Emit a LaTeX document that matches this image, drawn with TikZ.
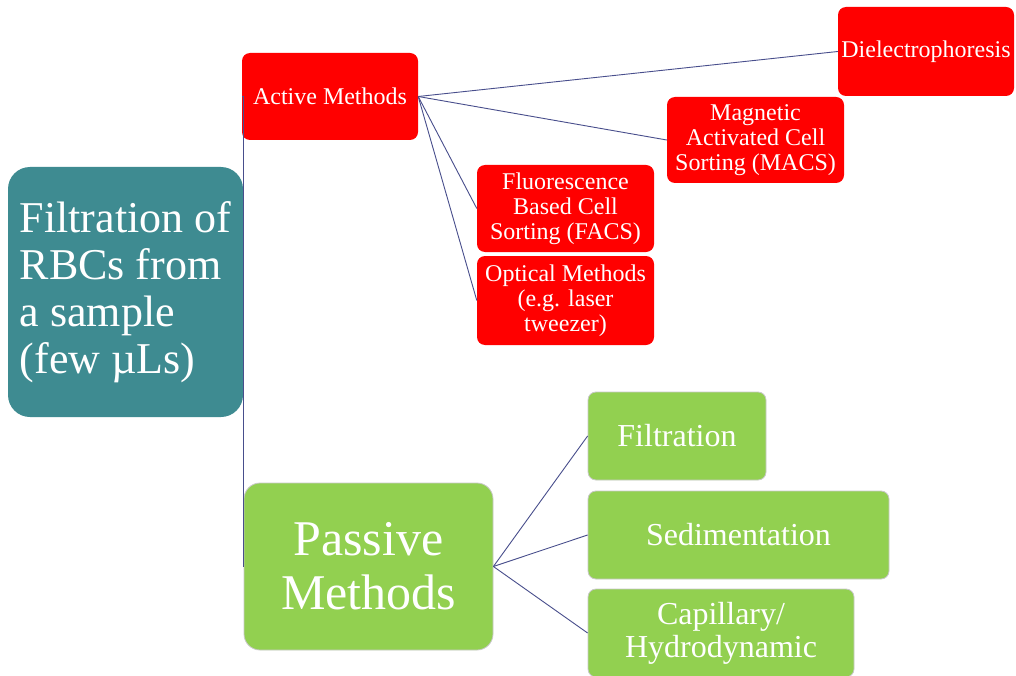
\documentclass[tikz,border=0pt]{standalone}
\usepackage{fontspec}
\setmainfont{Liberation Serif}
\definecolor{teal1}{RGB}{62,139,145}
\definecolor{red1}{RGB}{255,0,0}
\definecolor{green1}{RGB}{146,208,80}
\definecolor{line1}{RGB}{72,78,140}
\definecolor{edge1}{RGB}{200,200,200}
\tikzset{
  box/.style={rounded corners=8pt, inner sep=2pt, align=center, text=white},
  redbox/.style={box, fill=red1, font=\fontsize{24}{25}\selectfont},
  greenbox/.style={box, fill=green1, draw=edge1, line width=0.8pt, font=\fontsize{32}{33}\selectfont},
  link/.style={draw=line1, line width=0.9pt},
}
\begin{document}
\begin{tikzpicture}[x=1pt,y=-1pt]
\clip (0,0) rectangle (1016,676);
\fill[white] (0,0) rectangle (1016,676);
% root
\node[box, fill=teal1, rounded corners=22pt, minimum width=235pt, minimum height=250pt, align=left,
  font=\fontsize{44}{47}\selectfont] (root) at (125.5,292)
  {Filtration of\\RBCs from\\a sample\\(few µLs)};
% level 1
\node[redbox, minimum width=176pt, minimum height=87pt] (act) at (330,96.5) {Active Methods};
\node[greenbox, rounded corners=16pt, minimum width=249pt, minimum height=167pt,
  font=\fontsize{50}{54}\selectfont] (pas) at (368.5,566.5) {Passive\\Methods};
% active children
\node[redbox, minimum width=176pt, minimum height=89pt] (die) at (926,51.5) {Dielectrophoresis};
\node[redbox, minimum width=177pt, minimum height=86pt] (macs) at (755.5,140) {Magnetic\\Activated Cell\\Sorting (MACS)};
\node[redbox, minimum width=177pt, minimum height=87pt] (facs) at (565.5,208.5) {Fluorescence\\Based Cell\\Sorting (FACS)};
\node[redbox, minimum width=177pt, minimum height=89pt] (opt) at (565.5,300.5) {Optical Methods\\(e.g. laser\\tweezer)};
% passive children
\node[greenbox, minimum width=178pt, minimum height=88pt] (fil) at (677,436) {Filtration};
\node[greenbox, minimum width=301pt, minimum height=88pt] (sed) at (738.5,535) {Sedimentation};
\node[greenbox, minimum width=266pt, minimum height=88pt] (cap) at (721,633) {Capillary/\\Hydrodynamic};
% connectors
\draw[link] (root.east) |- (act.west);
\draw[link] (root.east) |- (pas.west);
\draw[link] (act.east) -- (die.west);
\draw[link] (act.east) -- (macs.west);
\draw[link] (act.east) -- (facs.west);
\draw[link] (act.east) -- (opt.west);
\draw[link] (pas.east) -- (fil.west);
\draw[link] (pas.east) -- (sed.west);
\draw[link] (pas.east) -- (cap.west);
\end{tikzpicture}
\end{document}
